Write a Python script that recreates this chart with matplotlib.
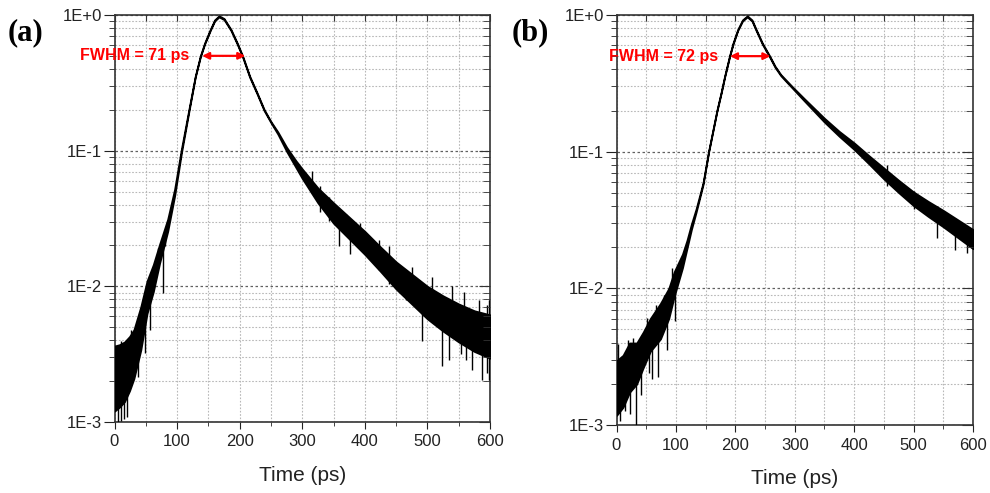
import numpy as np
import matplotlib.pyplot as plt
from matplotlib.ticker import FixedLocator, FixedFormatter, LogLocator, NullFormatter

plt.rcParams['font.family'] = ['Liberation Sans', 'DejaVu Sans']

# ---- panel (a): trace (log10 of intensity) ----
t_a = [0, 8, 16, 24, 31, 42, 52, 62, 72, 85, 96, 107, 119, 129, 137, 144, 153,
       160, 167, 175, 186, 196, 205, 216, 228, 239, 250, 261, 275, 290, 300,
       325, 350, 375, 400, 425, 450, 475, 500, 525, 550, 575, 600]
mid_a = [-2.68, -2.66, -2.63, -2.57, -2.50, -2.31, -2.08, -1.94, -1.76, -1.55,
         -1.31, -1.00, -0.70, -0.455, -0.307, -0.21, -0.11, -0.04, -0.01, -0.03,
         -0.11, -0.21, -0.31, -0.455, -0.58, -0.70, -0.79, -0.87, -0.99, -1.10,
         -1.17, -1.33, -1.46, -1.57, -1.68, -1.80, -1.92, -2.02, -2.12, -2.20,
         -2.27, -2.33, -2.37]
half_a = [0.24, 0.23, 0.22, 0.20, 0.18, 0.16, 0.12, 0.10, 0.07, 0.045, 0.025,
          0.015, 0.008, 0.004, 0.004, 0.004, 0.004, 0.004, 0.004, 0.004, 0.004,
          0.004, 0.004, 0.004, 0.004, 0.004, 0.004, 0.008, 0.015, 0.025, 0.035,
          0.055, 0.075, 0.08, 0.085, 0.09, 0.10, 0.11, 0.12, 0.13, 0.14, 0.15, 0.16]
# noise spikes (t, low, high) in log10
spikes_a = [(2, -2.80, -2.45), (5, -3.0, -2.7), (9.6, -2.7, -2.40), (11, -2.99, -2.65),
            (15, -2.98, -2.6), (20, -2.96, -2.55), (27, -2.45, -2.32), (37, -2.67, -2.25),
            (48, -2.49, -2.05), (56, -2.32, -2.0), (59, -2.0, -1.90), (69, -1.85, -1.72),
            (77, -2.05, -1.7), (80, -1.7, -1.63),
            (316, -1.30, -1.15), (329, -1.45, -1.26), (343, -1.52, -1.34),
            (359, -1.70, -1.45), (370, -1.60, -1.47), (377, -1.76, -1.55),
            (393, -1.70, -1.53), (423, -1.88, -1.66), (439, -1.98, -1.70),
            (465, -2.10, -1.90), (476, -2.05, -1.86), (492, -2.40, -2.05),
            (508, -2.20, -1.93), (523, -2.59, -2.2), (534, -2.54, -2.2),
            (540, -2.25, -2.0), (553, -2.50, -2.2), (558, -2.25, -2.04),
            (561, -2.54, -2.25), (571, -2.62, -2.3), (582, -2.30, -2.10),
            (587, -2.69, -2.35), (595, -2.64, -2.14), (599, -2.69, -2.10)]

# ---- panel (b) ----
t_b = [0, 11, 22, 34, 45, 57, 74, 88, 97, 111, 118.5, 126, 134, 145.6,
       155, 162, 169, 176, 182, 190, 196, 204, 212, 220, 228, 235, 245.5, 258,
       267, 276.5, 296, 316, 350, 375, 400, 425, 450, 475, 500, 525, 550, 575, 600]
mid_b = [-2.73, -2.68, -2.58, -2.55, -2.45, -2.34, -2.24, -2.11, -1.97, -1.80,
         -1.68, -1.55, -1.43, -1.235, -1.00, -0.85, -0.70, -0.57, -0.45,
         -0.306, -0.21, -0.11, -0.04, -0.01, -0.04, -0.11, -0.21, -0.306, -0.38,
         -0.44, -0.53, -0.62, -0.77, -0.87, -0.96, -1.06, -1.16, -1.255, -1.345,
         -1.42, -1.49, -1.565, -1.64]
half_b = [0.20, 0.19, 0.18, 0.15, 0.13, 0.12, 0.13, 0.11, 0.09, 0.05, 0.03,
          0.02, 0.012, 0.007, 0.004, 0.004, 0.004, 0.004, 0.004, 0.004,
          0.004, 0.004, 0.004, 0.004, 0.004, 0.004, 0.004, 0.004, 0.004, 0.004,
          0.005, 0.008, 0.014, 0.018, 0.024, 0.03, 0.04, 0.045, 0.05, 0.055, 0.06,
          0.065, 0.07]
spikes_b = [(3, -2.80, -2.41), (5.6, -2.97, -2.6), (14, -2.90, -2.5), (19, -2.6, -2.38),
            (22.6, -2.92, -2.5), (28, -2.5, -2.36), (33, -3.0, -2.4), (42, -2.78, -2.45),
            (51, -2.4, -2.22), (54, -2.62, -2.35), (60, -2.66, -2.3), (66, -2.3, -2.12),
            (70.5, -2.65, -2.25), (80, -2.3, -2.05), (85, -2.45, -2.05), (93, -2.1, -1.85),
            (99, -2.24, -1.95), (455, -1.25, -1.1), (500, -1.42, -1.29), (540, -1.63, -1.4),
            (570, -1.72, -1.5), (590, -1.74, -1.55)]

fwhm_a = (140, 209, 'FWHM = 71 ps')
fwhm_b = (191, 259, 'FWHM = 72 ps')

ytick_vals = [1e-3, 1e-2, 1e-1, 1.0]
ytick_text = ['1E-3', '1E-2', '1E-1', '1E+0']


def setup(ax):
    ax.set_yscale('log')
    ax.set_xlim(0, 600)
    ax.set_ylim(1e-3, 1.0)
    ax.yaxis.set_major_locator(FixedLocator(ytick_vals))
    ax.yaxis.set_major_formatter(FixedFormatter(ytick_text))
    ax.yaxis.set_minor_locator(LogLocator(base=10, subs=range(2, 10)))
    ax.yaxis.set_minor_formatter(NullFormatter())
    ax.set_xticks(range(0, 601, 100))
    ax.set_xticks(range(50, 600, 100), minor=True)
    ax.grid(which='major', axis='y', ls=(0, (2, 2)), color='#606060', lw=0.9)
    ax.grid(which='minor', axis='y', ls=(0, (1.5, 1.5)), color='#b8b8b8', lw=0.8)
    ax.grid(which='both', axis='x', ls=(0, (1.5, 1.5)), color='#b8b8b8', lw=0.8)
    ax.tick_params(axis='both', which='both', direction='out', labelsize=12,
                   colors='#222222', right=False, top=False)
    ax.tick_params(axis='y', which='major', length=8, pad=1)
    ax.tick_params(axis='y', which='minor', length=4)
    ax.tick_params(axis='x', which='major', length=5, pad=4)
    ax.tick_params(axis='x', which='minor', length=3)
    for s in ax.spines.values():
        s.set_color('#333333')
        s.set_linewidth(1.2)
    ax.set_xlabel('Time (ps)', fontsize=15, labelpad=12, color='#222222')

    # inward ticks on right and top
    axr = ax.twinx()
    axr.set_yscale('log')
    axr.set_ylim(1e-3, 1.0)
    axr.yaxis.set_major_locator(FixedLocator(ytick_vals))
    axr.yaxis.set_minor_locator(LogLocator(base=10, subs=range(2, 10)))
    axr.tick_params(axis='y', which='both', direction='in', labelright=False, colors='#333333')
    axr.tick_params(axis='y', which='major', length=8)
    axr.tick_params(axis='y', which='minor', length=5)
    axt = ax.twiny()
    axt.set_xlim(0, 600)
    axt.set_xticks(range(0, 601, 50))
    axt.tick_params(axis='x', direction='in', length=4, labeltop=False, colors='#333333')
    for a in (axr, axt):
        for s in a.spines.values():
            s.set_visible(False)


def draw_trace(ax, t, mid, half, spikes):
    mid = np.array(mid)
    half = np.array(half)
    ax.fill_between(t, 10 ** (mid - half), 10 ** (mid + half), color='black',
                    lw=1.3, edgecolor='black', zorder=3)
    st = [s[0] for s in spikes]
    lo = [10 ** s[1] for s in spikes]
    hi = [10 ** s[2] for s in spikes]
    ax.vlines(st, lo, hi, color='black', lw=1.0, zorder=3)


def draw_fwhm(ax, fw):
    x0, x1, label = fw
    ax.annotate('', xy=(x0, 0.5), xytext=(x1, 0.5),
                arrowprops=dict(arrowstyle='<|-|>', color='#ff0000', lw=1.6,
                                mutation_scale=10, shrinkA=0, shrinkB=0), zorder=5)
    ax.text(x0 - 20, 0.5, label, color='#ff0000', fontsize=11.5, fontweight='bold',
            ha='right', va='center', zorder=5)


fig = plt.figure(figsize=(9.9, 4.93), dpi=100)
ax_a = fig.add_axes([114.5 / 990, 71 / 493, 375.5 / 990, 407 / 493])
ax_b = fig.add_axes([616.5 / 990, 68 / 493, 356.5 / 990, 410 / 493])

for ax, t, mid, half, spk, fw in [(ax_a, t_a, mid_a, half_a, spikes_a, fwhm_a),
                                  (ax_b, t_b, mid_b, half_b, spikes_b, fwhm_b)]:
    draw_trace(ax, t, mid, half, spk)
    draw_fwhm(ax, fw)
    setup(ax)

fig.text(8 / 990, 1 - 33 / 493, '(a)', fontsize=22, fontweight='bold',
         family='Liberation Serif', ha='left', va='center')
fig.text(512 / 990, 1 - 33 / 493, '(b)', fontsize=22, fontweight='bold',
         family='Liberation Serif', ha='left', va='center')

fig.savefig('out.png', dpi=100)
